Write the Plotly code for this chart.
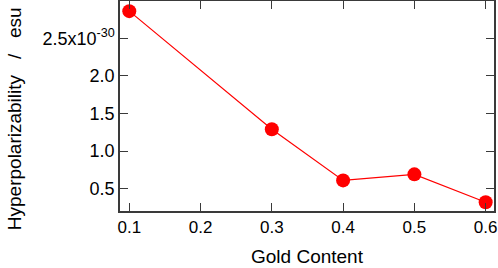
import plotly.graph_objects as go

gold_content = [0.1, 0.3, 0.4, 0.5, 0.6]
hyperpol = [2.86, 1.29, 0.61, 0.69, 0.32]  # x 1e-30 esu

y_tickvals = [0.5, 1.0, 1.5, 2.0, 2.5]
y_ticktext = ["0.5", "1.0", "1.5", "2.0", "2.5x10<sup>-30</sup>"]
x_tickvals = [0.1, 0.2, 0.3, 0.4, 0.5, 0.6]
x_ticktext = ["0.1", "0.2", "0.3", "0.4", "0.5", "0.6"]

font = "Liberation Sans, Arial, sans-serif"
axcol = "#3a3a3a"
nb = "\u00a0"

fig = go.Figure()
fig.add_trace(go.Scatter(
    x=gold_content, y=hyperpol, mode="lines+markers",
    line=dict(color="#ff0000", width=1.2),
    marker=dict(color="#ff0000", size=14),
    cliponaxis=False,
))

fig.update_layout(
    width=498, height=268,
    margin=dict(l=120, r=4, t=1, b=57),
    paper_bgcolor="white", plot_bgcolor="white",
    showlegend=False,
    font=dict(family=font, size=18, color="#000000"),
    xaxis=dict(
        range=[0.087, 0.6117], tickvals=x_tickvals, ticktext=x_ticktext,
        ticks="inside", ticklen=8, tickwidth=1.2, tickcolor=axcol,
        showline=True, linecolor=axcol, linewidth=1.5, mirror="ticks",
        showgrid=False, zeroline=False, automargin=False,
        tickfont=dict(size=17),
    ),
    yaxis=dict(
        range=[0.203, 2.995], tickvals=y_tickvals, ticktext=y_ticktext,
        ticks="inside", ticklen=8, tickwidth=1.2, tickcolor=axcol,
        showline=True, linecolor=axcol, linewidth=1.5, mirror="ticks",
        showgrid=False, zeroline=False, automargin=False,
        tickfont=dict(size=18),
    ),
    annotations=[
        dict(
            text="Hyperpolarizability" + nb * 3 + "/" + nb * 3 + "esu",
            textangle=-90,
            xref="paper", yref="paper", x=-0.283, y=0.438,
            xanchor="center", yanchor="middle", showarrow=False,
            font=dict(size=19),
        ),
        dict(
            text="Gold Content",
            xref="paper", yref="paper", x=0.5, y=-0.218,
            xanchor="center", yanchor="middle", showarrow=False,
            font=dict(size=19),
        ),
    ],
)

fig.write_html("out.html", config={"displayModeBar": False},
               post_script="document.body.style.margin='0px';")
